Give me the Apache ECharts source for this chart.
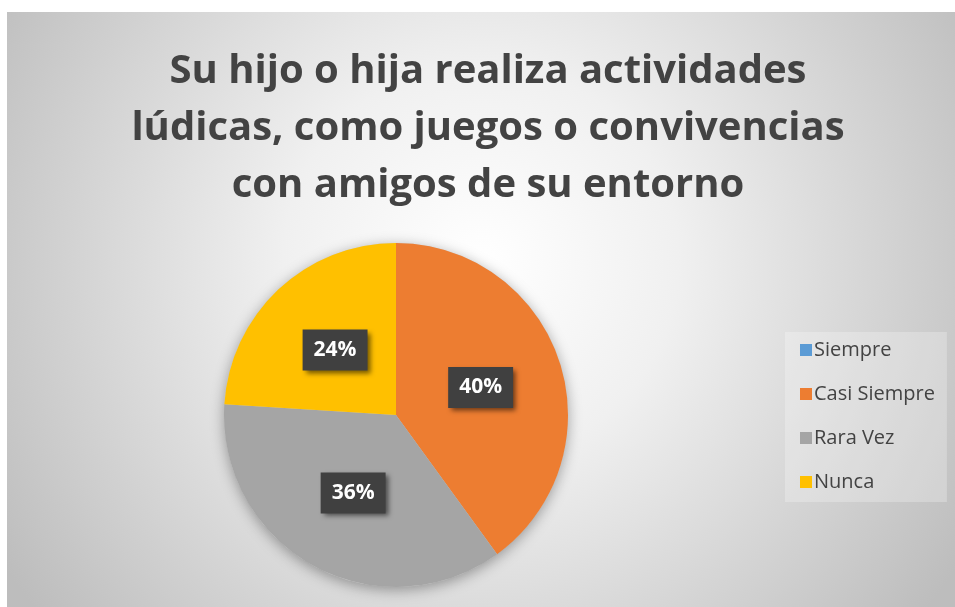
<!DOCTYPE html>
<html><head><meta charset="utf-8">
<script src="https://cdn.jsdelivr.net/npm/echarts@6/dist/echarts.min.js"></script>
<style>
html,body{margin:0;padding:0;background:#fff;width:955px;height:607px;overflow:hidden}
#c{position:absolute;left:7px;top:12px;width:948px;height:595px}
</style></head><body>
<div id="c"></div>
<script>
const titleText = 'Su hijo o hija realiza actividades\nlúdicas, como juegos o convivencias\ncon amigos de su entorno';
const categories = ['Siempre', 'Casi Siempre', 'Rara Vez', 'Nunca'];
const values = [0, 40, 36, 24];
const colors = ['#5B9BD5', '#ED7D31', '#A5A5A5', '#FFC000'];

const chart = echarts.init(document.getElementById('c'), null, {renderer: 'canvas'});
const font = '"Open Sans", "DejaVu Sans", sans-serif';
chart.setOption({
  animation: false,
  backgroundColor: {
    type: 'radial', x: 0.5, y: 0.42, r: 0.95,
    colorStops: [
      {offset: 0, color: '#ffffff'},
      {offset: 0.35, color: '#f0f0f0'},
      {offset: 1, color: '#bdbdbd'}
    ]
  },
  color: colors,
  title: {
    text: titleText,
    left: 476, top: 26, textAlign: 'center',
    textStyle: {
      fontFamily: font, fontWeight: 'bold', fontSize: 40,
      lineHeight: 57, color: '#434343'
    }
  },
  legend: {
    orient: 'vertical',
    left: 778, top: 320,
    data: categories,
    icon: 'rect', itemWidth: 12, itemHeight: 12, itemGap: 24,
    padding: [8, 12, 10, 15],
    backgroundColor: 'rgba(255,255,255,0.25)',
    textStyle: {fontFamily: font, fontSize: 20, color: '#434343', padding: [0, 0, 0, -3]}
  },
  series: [
    {
      type: 'pie', silent: true, z: 1,
      center: [389, 403], radius: 172,
      label: {show: false}, labelLine: {show: false},
      itemStyle: {color: '#cccccc', shadowBlur: 14, shadowColor: 'rgba(0,0,0,0.35)', shadowOffsetY: 3},
      data: [{value: 1, name: '_shadow'}],
      tooltip: {show: false}
    },
    {
      type: 'pie', z: 2,
      center: [389, 403], radius: 172,
      startAngle: 90, clockwise: true,
      avoidLabelOverlap: false,
      data: categories.map((n, i) => ({
        name: n, value: values[i],
        label: {show: values[i] > 0}
      })),
      label: {
        position: 'inside',
        formatter: p => Math.round(p.percent) + '%',
        fontFamily: font, fontWeight: 'bold', fontSize: 21, color: '#ffffff',
        backgroundColor: '#404040',
        padding: [11, 11, 9, 11],
        shadowBlur: 5, shadowColor: 'rgba(0,0,0,0.55)', shadowOffsetX: 3, shadowOffsetY: 3
      },
      labelLine: {show: false},
      itemStyle: {borderWidth: 0}
    }
  ]
});
</script>
</body></html>
